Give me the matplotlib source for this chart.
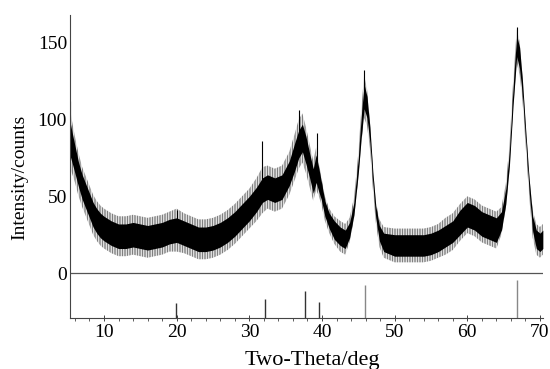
import numpy as np
import matplotlib
matplotlib.use("Agg")
from matplotlib import pyplot as plt
from matplotlib.ticker import MultipleLocator

plt.rcParams['font.family'] = ['Liberation Serif', 'DejaVu Serif']
plt.rcParams['hatch.linewidth'] = 0.5

# XRD trace: middle of the noisy band and its spread
two_theta = [5.3, 5.6, 6.0, 6.5, 7.0, 7.5, 8.0, 8.5, 9.0, 9.5, 10, 11, 12, 13, 14, 15, 16, 17, 18,
             19, 20, 21, 22, 23, 24, 25, 26, 27, 28, 29, 30, 31, 31.8, 32.5, 33.5, 34.5, 35.5,
             36.2, 36.8, 37.3, 37.8, 38.3, 38.8, 39.2, 39.5, 39.9, 40.4, 41, 41.7, 42.5, 43.2,
             43.8, 44.4, 45.0, 45.4, 45.8, 46.2, 46.6, 47.0, 47.4, 47.9, 48.5, 50, 52, 54, 55,
             56, 57, 58, 59, 60, 61, 62, 63, 64, 64.7, 65.3, 65.8, 66.3, 66.8, 67.2, 67.6, 68.0,
             68.5, 69.0, 69.5, 70.0, 70.4]
intensity = [88, 82, 74, 64, 56, 50, 44, 38, 34, 31, 29, 26, 24, 24, 25, 24, 23, 24, 25,
             27, 28, 26, 24, 22, 22, 23, 25, 28, 32, 37, 42, 48, 54, 56, 54, 56, 65,
             75, 84, 88, 80, 70, 60, 68, 62, 54, 42, 34, 28, 24, 22,
             28, 42, 70, 95, 115, 108, 90, 62, 40, 26, 20, 18, 18, 18, 19,
             21, 24, 27, 33, 38, 36, 32, 30, 28, 34, 50, 75, 115, 148, 140, 120, 92,
             58, 32, 22, 20, 22]
core_spread = [11, 10, 9, 8, 8, 8, 8, 8, 8, 8, 8, 8, 8, 8, 8, 8, 8, 8, 8,
               8, 8, 8, 8, 8, 8, 8, 8, 8, 8, 8, 8, 8, 8, 8, 8, 8, 8,
               9, 9, 9, 9, 8, 8, 9, 8, 6, 5, 5, 6, 6, 6,
               5, 4, 5, 7, 8, 7, 5, 4, 4, 5, 6, 7, 7, 7, 7,
               7, 7, 7, 8, 8, 8, 8, 8, 8, 6, 5, 5, 6, 7, 7, 5, 4,
               4, 5, 6, 6, 6]
spike_spread = [20, 17, 15, 14, 13, 13, 13, 13, 13, 13, 13, 13, 13, 13, 13, 13, 13, 13, 13,
                13, 14, 13, 13, 13, 13, 13, 13, 13, 13, 13, 13, 14, 15, 14, 14, 14, 14,
                15, 16, 16, 15, 14, 13, 14, 11, 9, 8, 8, 9, 10, 10,
                8, 7, 8, 11, 14, 12, 9, 7, 7, 9, 10, 11, 11, 11, 11,
                11, 12, 12, 12, 12, 12, 12, 12, 12, 9, 8, 8, 9, 11, 11, 8, 7,
                7, 9, 10, 10, 10]

# isolated tall spikes
spike_pos = [5.3, 20.0, 31.8, 36.9, 39.3, 45.8, 66.8]
spike_top = [112, 41, 86, 106, 91, 132, 160]

# reference pattern sticks (relative heights)
stick_pos = [19.9, 32.1, 37.7, 39.6, 45.9, 66.8]
stick_rel = [40, 49, 72, 43, 87, 100]
stick_col = ['#333333', '#333333', '#333333', '#333333', '#888888', '#888888']

x = np.array(two_theta)
y = np.array(intensity)
core = np.array(core_spread)
spk = np.array(spike_spread)

fig = plt.figure(figsize=(5.5, 3.69), dpi=100)
ax = fig.add_axes([0.127, 0.138, 0.86, 0.821])
ymin = -29.3
ax.set_xlim(5.3, 70.4)
ax.set_ylim(ymin, 168)

# outer spikes as a dense vertical comb, core as solid black
ax.fill_between(x, y - spk, y + spk, facecolor='none', edgecolor='#4a4a4a', hatch='|' * 10, lw=0)
ax.fill_between(x, y - core, y + core, color='black', lw=0)
ax.vlines(spike_pos, np.interp(spike_pos, x, y), spike_top, color='black', lw=0.8)

ax.axhline(0, color='#555555', lw=0.9)
ax.vlines(stick_pos, ymin, ymin + np.array(stick_rel) / 100 * 24.7, colors=stick_col, lw=1.0)

for s in ['top', 'right']:
    ax.spines[s].set_visible(False)
for s in ['left', 'bottom']:
    ax.spines[s].set_color('#444444')
    ax.spines[s].set_linewidth(0.8)

ax.set_yticks([0, 50, 100, 150])
ax.set_xticks([10, 20, 30, 40, 50, 60, 70])
ax.xaxis.set_minor_locator(MultipleLocator(2))
ax.tick_params(axis='y', length=0, pad=2, labelsize=14)
ax.tick_params(axis='x', which='major', direction='inout', length=5, width=0.7,
               colors='#444444', labelcolor='black', labelsize=14, pad=2)
ax.tick_params(axis='x', which='minor', direction='out', length=2.5, width=0.6, colors='#444444')

fig.text(312 / 550, 1 - 361 / 369, 'Two-Theta/deg', ha='center', va='center', fontsize=16)
fig.text(20 / 550, 1 - 177 / 369, 'Intensity/counts', ha='center', va='center',
         rotation=90, fontsize=14)

fig.savefig('out.png', dpi=100)
